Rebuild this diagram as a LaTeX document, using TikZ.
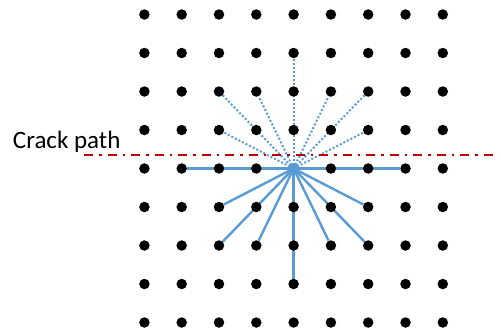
\documentclass[tikz,border=0pt]{standalone}
\usepackage{fontspec}
\setmainfont{Carlito}
\pgfdeclarelayer{bg}
\pgfsetlayers{bg,main}
\definecolor{lineblue}{RGB}{91,155,213}
\definecolor{crackred}{RGB}{192,0,0}
\tikzset{
  dot/.style={circle,fill=black,inner sep=0pt,minimum size=10.5pt},
  bond/.style={lineblue,line width=2.4pt},
  brokenbond/.style={lineblue,line width=2pt,dash pattern=on 2pt off 2pt},
  crack/.style={crackred,line width=2pt,dash pattern=on 9pt off 6pt on 2.5pt off 6pt},
  lbl/.style={font=\fontsize{25}{29}\selectfont,inner sep=0pt,anchor=base}
}
\begin{document}
\begin{tikzpicture}[x=1pt,y=-1pt]
\useasboundingbox (0,0) rectangle (501,333);
\foreach \i in {0,...,8}{
  \foreach \j in {0,...,8}{
    \ifnum\i\j=44 \else
      \node[dot] (d\i\j) at ({144.4+37.3*\i},{14.5+38.5*\j}) {};
    \fi
  }
}
\begin{pgfonlayer}{bg}
  \node[dot,fill=lineblue] (d44) at ({144.4+37.3*4},{14.5+38.5*4}) {};
  \foreach \t in {14,24,34,54,64,74,25,26,36,47,56,66,65}
    \draw[bond] (d44.center) -- (d\t);
  \foreach \t in {23,22,32,41,52,62,63}
    \draw[brokenbond] (d44.center) -- (d\t);
\end{pgfonlayer}
\coordinate (cs) at (84,155);
\coordinate (ce) at (498,155);
\draw[crack] (cs) -- (ce);
\node[lbl] (label) at (66.7,148.3) {Crack path};
\end{tikzpicture}
\end{document}
